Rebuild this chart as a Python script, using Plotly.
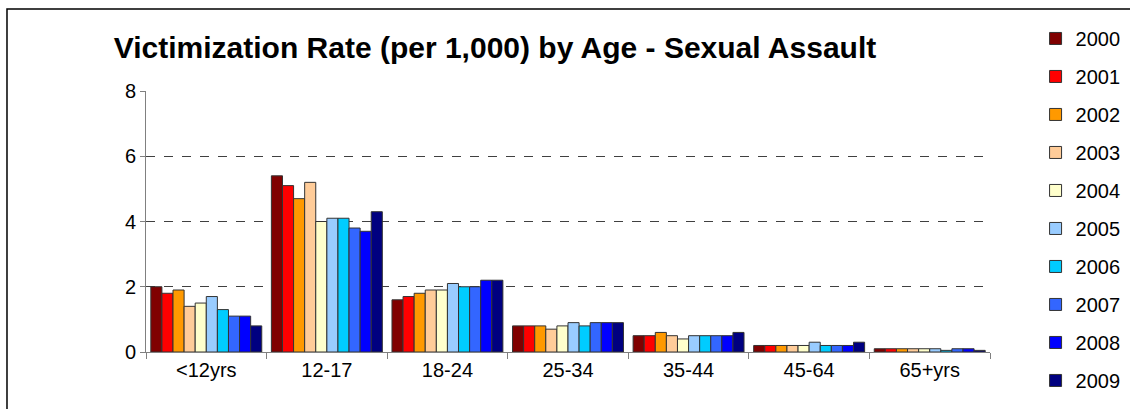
import plotly.graph_objects as go

# Age groups on the x axis
ages = ["<12yrs", "12-17", "18-24", "25-34", "35-44", "45-64", "65+yrs"]

# Victimization rate per 1,000, one list per year
y2000 = [2.0, 5.4, 1.6, 0.8, 0.5, 0.2, 0.1]
y2001 = [1.8, 5.1, 1.7, 0.8, 0.5, 0.2, 0.1]
y2002 = [1.9, 4.7, 1.8, 0.8, 0.6, 0.2, 0.1]
y2003 = [1.4, 5.2, 1.9, 0.7, 0.5, 0.2, 0.1]
y2004 = [1.5, 4.0, 1.9, 0.8, 0.4, 0.2, 0.1]
y2005 = [1.7, 4.1, 2.1, 0.9, 0.5, 0.3, 0.1]
y2006 = [1.3, 4.1, 2.0, 0.8, 0.5, 0.2, 0.05]
y2007 = [1.1, 3.8, 2.0, 0.9, 0.5, 0.2, 0.1]
y2008 = [1.1, 3.7, 2.2, 0.9, 0.5, 0.2, 0.1]
y2009 = [0.8, 4.3, 2.2, 0.9, 0.6, 0.3, 0.05]

years = ["2000", "2001", "2002", "2003", "2004", "2005", "2006", "2007", "2008", "2009"]
series = [y2000, y2001, y2002, y2003, y2004, y2005, y2006, y2007, y2008, y2009]
colors = ["#800000", "#FF0000", "#FF9900", "#FFCC99", "#FFFFCC",
          "#99CCFF", "#00CCFF", "#3366FF", "#0000FF", "#000080"]

fig = go.Figure()
for yr, vals, col in zip(years, series, colors):
    fig.add_trace(go.Bar(
        x=ages, y=vals, name=yr, legendgroup=yr,
        marker=dict(color=col, line=dict(color="#333333", width=1)),
    ))

# outer chart frame (runs past the right and bottom edge like the original)
fig.add_shape(type="rect", xref="paper", yref="paper",
              x0=-0.1647, y0=-0.3, x1=1.3, y1=1.314,
              line=dict(color="black", width=1.5), fillcolor="rgba(0,0,0,0)",
              layer="below")

fig.update_layout(
    width=1130, height=409,
    margin=dict(l=146, r=140, t=91, b=57, autoexpand=False),
    plot_bgcolor="white", paper_bgcolor="white",
    font=dict(family="Liberation Sans, Arial, sans-serif", size=20, color="black"),
    title=dict(text="<b>Victimization Rate (per 1,000) by Age - Sexual Assault</b>",
               xref="paper", x=0.4135, xanchor="center",
               yref="container", y=0.883, yanchor="middle",
               font=dict(size=30)),
    barmode="group", bargap=0.08, bargroupgap=0,
    showlegend=True,
    legend=dict(x=1.054, xanchor="left", y=1.276, yanchor="top",
                font=dict(size=20), tracegroupgap=9, maxheight=409,
                traceorder="grouped", itemwidth=30),
    xaxis=dict(showline=True, linecolor="#808080", linewidth=1,
               ticks="outside", ticklen=6, tickcolor="#808080",
               tickson="boundaries", showgrid=False, fixedrange=True),
    yaxis=dict(range=[0, 8], dtick=2, showline=True, linecolor="#808080",
               linewidth=1, ticks="outside", ticklen=5, tickcolor="#808080",
               showgrid=True, gridcolor="#404040", griddash="dash",
               gridwidth=1, zeroline=False, fixedrange=True),
)

# the page body has a default 8px margin; drop it so the chart sits at 0,0
fig.write_html("out.html", config={"displayModeBar": False},
               post_script="document.body.style.margin='0';")
